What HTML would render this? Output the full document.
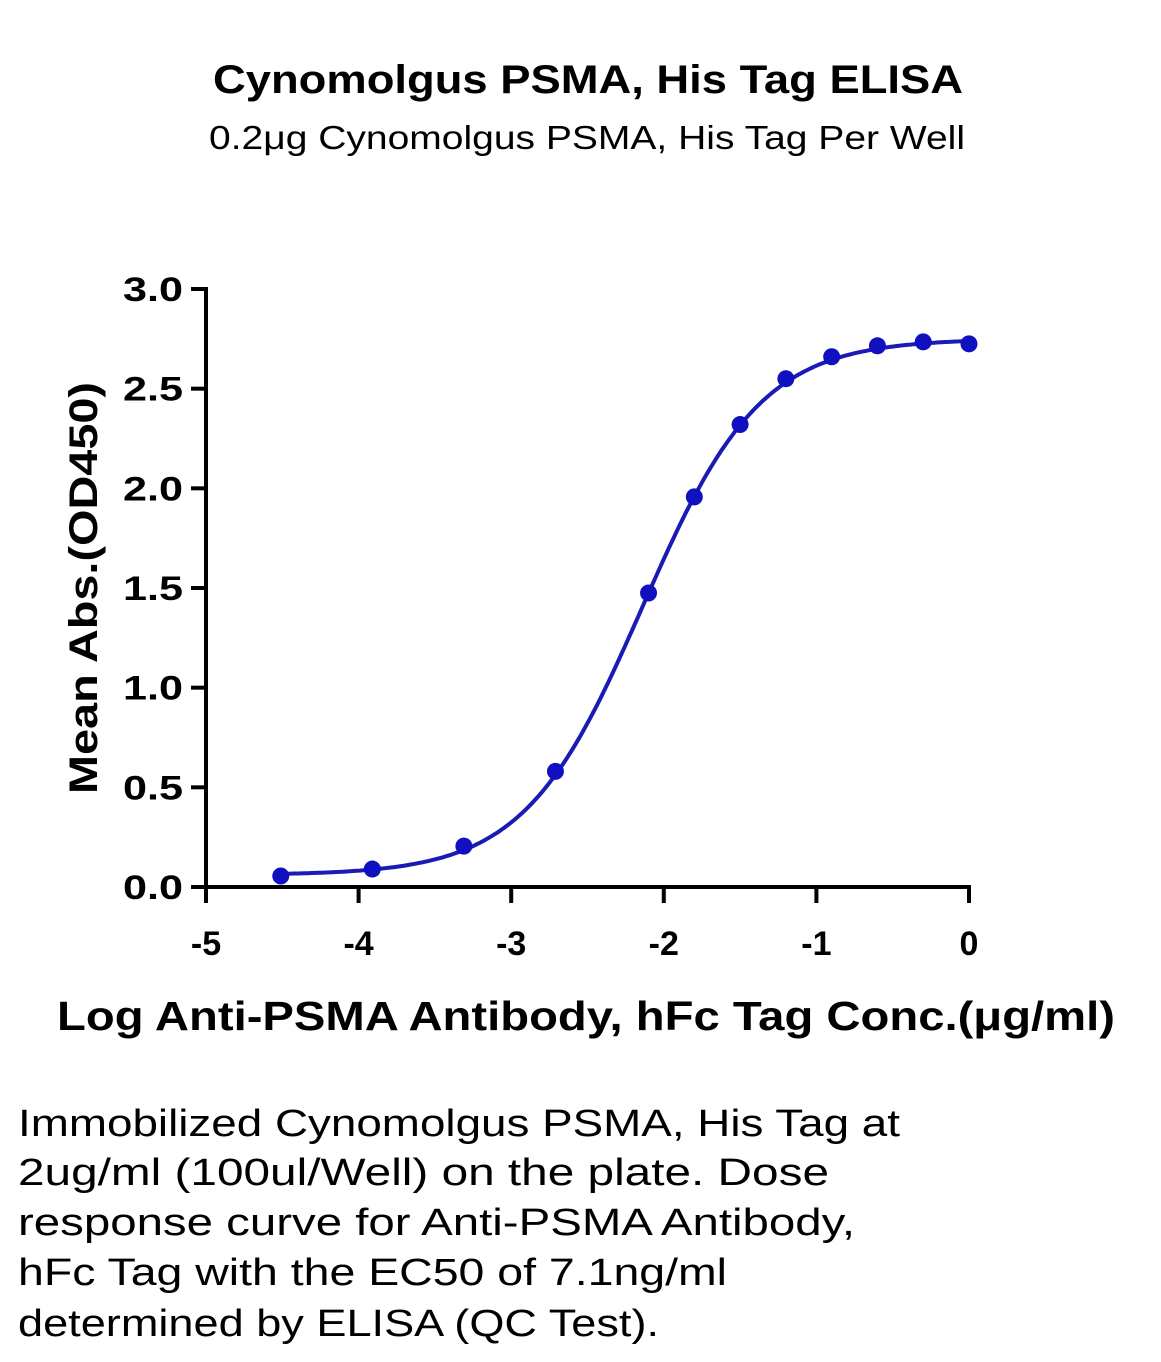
<!DOCTYPE html>
<html><head><meta charset="utf-8"><style>
html,body{margin:0;padding:0;background:#fff}
svg{display:block}
text{font-family:"Liberation Sans",sans-serif;fill:#000}
</style></head><body>
<svg id="chart" width="1161" height="1362" viewBox="0 0 1161 1362">
<text x="588" y="93" text-anchor="middle" font-size="40" font-weight="bold" textLength="750" lengthAdjust="spacingAndGlyphs">Cynomolgus PSMA, His Tag ELISA</text>
<text x="587" y="149" text-anchor="middle" font-size="33" textLength="756" lengthAdjust="spacingAndGlyphs">0.2μg Cynomolgus PSMA, His Tag Per Well</text>
<text transform="translate(97,588) rotate(-90)" text-anchor="middle" font-size="40" font-weight="bold" textLength="412" lengthAdjust="spacingAndGlyphs">Mean Abs.(OD450)</text>
<text x="586" y="1030" text-anchor="middle" font-size="41" font-weight="bold" textLength="1058" lengthAdjust="spacingAndGlyphs">Log Anti-PSMA Antibody, hFc Tag Conc.(μg/ml)</text>
<g id="axes"></g>
<g id="marks"></g>
<g font-size="38">
<text x="18" y="1136" textLength="882" lengthAdjust="spacingAndGlyphs">Immobilized Cynomolgus PSMA, His Tag at</text>
<text x="18" y="1185" textLength="811" lengthAdjust="spacingAndGlyphs">2ug/ml (100ul/Well) on the plate. Dose</text>
<text x="18" y="1235" textLength="837" lengthAdjust="spacingAndGlyphs">response curve for Anti-PSMA Antibody,</text>
<text x="18" y="1285" textLength="709" lengthAdjust="spacingAndGlyphs">hFc Tag with the EC50 of 7.1ng/ml</text>
<text x="18" y="1336" textLength="641" lengthAdjust="spacingAndGlyphs">determined by ELISA (QC Test).</text>
</g>
</svg>
<script>
const logConc = [-4.51, -3.91, -3.31, -2.71, -2.10, -1.80, -1.50, -1.20, -0.90, -0.60, -0.30, 0];
const meanAbs = [0.055, 0.09, 0.205, 0.58, 1.475, 1.957, 2.32, 2.55, 2.66, 2.715, 2.735, 2.725];
const xTicks = [-5, -4, -3, -2, -1, 0];
const xTickLabels = ["-5", "-4", "-3", "-2", "-1", "0"];
const yTicks = [0, 0.5, 1.0, 1.5, 2.0, 2.5, 3.0];
const yTickLabels = ["0.0", "0.5", "1.0", "1.5", "2.0", "2.5", "3.0"];
const fitBottom = [0.06];
const fitTop = [2.75];
const fitLogEC50 = [-2.14];
const fitHill = [1.12];

const NS = "http://www.w3.org/2000/svg";
const X0 = 206, X1 = 969, Y0 = 887, Y1 = 289;
const xs = v => X0 + (v - (-5)) / 5 * (X1 - X0);
const ys = v => Y0 - v / 3 * (Y0 - Y1);
function mk(tag, attrs, parent) { const e = document.createElementNS(NS, tag); for (const k in attrs) e.setAttribute(k, attrs[k]); parent.appendChild(e); return e; }
const axes = document.getElementById('axes'), marks = document.getElementById('marks');

let a = mk('line', {x1: X0, y1: Y1 - 2, x2: X0, y2: Y0 + 2, stroke: '#000', 'stroke-width': 4}, axes);


a = mk('line', {x1: X0 - 2, y1: Y0, x2: X1 + 2, y2: Y0, stroke: '#000', 'stroke-width': 4}, axes);



yTicks.forEach((v, i) => {
  const t = mk('line', {x1: X0 - 15, y1: ys(v), x2: X0, y2: ys(v), stroke: '#000', 'stroke-width': 4}, axes);
  
  
  const l = mk('text', {x: X0 - 23, y: ys(v) + 12, 'text-anchor': 'end', 'font-size': 34, 'font-weight': 'bold', textLength: 60, lengthAdjust: 'spacingAndGlyphs'}, axes);
  l.textContent = yTickLabels[i];
  
  
});
xTicks.forEach((v, i) => {
  const t = mk('line', {x1: xs(v), y1: Y0, x2: xs(v), y2: Y0 + 16, stroke: '#000', 'stroke-width': 4}, axes);
  
  
  const l = mk('text', {x: xs(v), y: Y0 + 68, 'text-anchor': 'middle', 'font-size': 34, 'font-weight': 'bold'}, axes);
  l.textContent = xTickLabels[i];
  
  
});

const f = x => fitBottom[0] + (fitTop[0] - fitBottom[0]) / (1 + Math.pow(10, (fitLogEC50[0] - x) * fitHill[0]));
const xmin = Math.min(...logConc), xmax = Math.max(...logConc);
let d = '';
for (let i = 0; i <= 200; i++) { const x = xmin + (xmax - xmin) * i / 200; d += (i ? 'L' : 'M') + xs(x).toFixed(1) + ',' + ys(f(x)).toFixed(1); }
const c = mk('path', {d: d, fill: 'none', stroke: '#1a1ab4', 'stroke-width': 4}, marks);


logConc.forEach((x, i) => {
  const p = mk('circle', {cx: xs(x), cy: ys(meanAbs[i]), r: 8.5, fill: '#1010c0'}, marks);
  
  
});
</script>
</body></html>
